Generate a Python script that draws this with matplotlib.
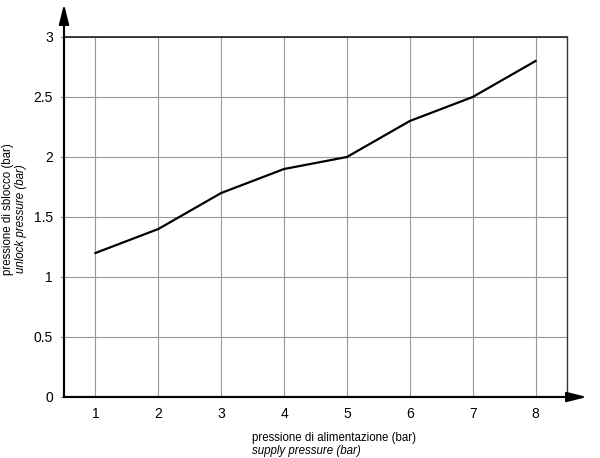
import matplotlib
matplotlib.use("Agg")
import matplotlib.pyplot as plt

supply_pressure = [1, 2, 3, 4, 5, 6, 7, 8]
unlock_pressure = [1.2, 1.4, 1.7, 1.9, 2.0, 2.3, 2.5, 2.8]
x_ticks = [1, 2, 3, 4, 5, 6, 7, 8]
y_ticks = [0, 0.5, 1, 1.5, 2, 2.5, 3]
y_tick_labels = ["0", "0.5", "1", "1.5", "2", "2.5", "3"]

plt.rcParams['font.family'] = ['Liberation Sans', 'DejaVu Sans']

W, H = 600, 458
fig = plt.figure(figsize=(W / 100, H / 100), dpi=100)
L, R, T, B = 64, 567, 37, 397
ax = fig.add_axes([L / W, 1 - B / H, (R - L) / W, (B - T) / H])
ax.set_xlim(0.5, 8.5)
ax.set_ylim(0, 3)

ax.set_xticks(x_ticks)
ax.set_yticks(y_ticks)
ax.set_yticklabels(y_tick_labels)
ax.grid(True, color='#999999', linewidth=0.8)
ax.set_axisbelow(True)
ax.tick_params(axis='x', length=0, pad=7, labelsize=10)
ax.tick_params(axis='y', length=3, color='#999999', width=0.8, pad=5, labelsize=10)

for s in ['left', 'bottom']:
    ax.spines[s].set_linewidth(1.5)
    ax.spines[s].set_color('black')
ax.spines['top'].set_linewidth(1.2)
ax.spines['top'].set_color('#222222')
ax.spines['right'].set_linewidth(1.0)
ax.spines['right'].set_color('#333333')

ax.plot(supply_pressure, unlock_pressure, color='black', linewidth=1.6, zorder=3)

# arrows
ax.annotate('', xy=(L / W, 1 - 4 / H), xytext=(L / W, 1 - B / H),
            xycoords='figure fraction', textcoords='figure fraction',
            arrowprops=dict(arrowstyle='-|>,head_length=1.2,head_width=0.3', color='black', lw=1.5,
                            shrinkA=0, shrinkB=0))
ax.annotate('', xy=(587 / W, 1 - B / H), xytext=(L / W, 1 - B / H),
            xycoords='figure fraction', textcoords='figure fraction',
            arrowprops=dict(arrowstyle='-|>,head_length=1.2,head_width=0.3', color='black', lw=1.5,
                            shrinkA=0, shrinkB=0))

fs = 8.3
fig.text(252 / W, 1 - 438 / H, 'pressione di alimentazione (bar)', fontsize=fs,
         ha='left', va='center')
fig.text(252 / W, 1 - 451 / H, 'supply pressure (bar)', fontsize=fs, style='italic',
         ha='left', va='center')
fig.text(8.5 / W, 1 - 275 / H, 'pressione di sblocco (bar)', fontsize=fs, rotation=90,
         ha='center', va='bottom')
fig.text(21 / W, 1 - 273 / H, 'unlock pressure (bar)', fontsize=fs, style='italic', rotation=90,
         ha='center', va='bottom')

fig.savefig('out.png', dpi=100)
